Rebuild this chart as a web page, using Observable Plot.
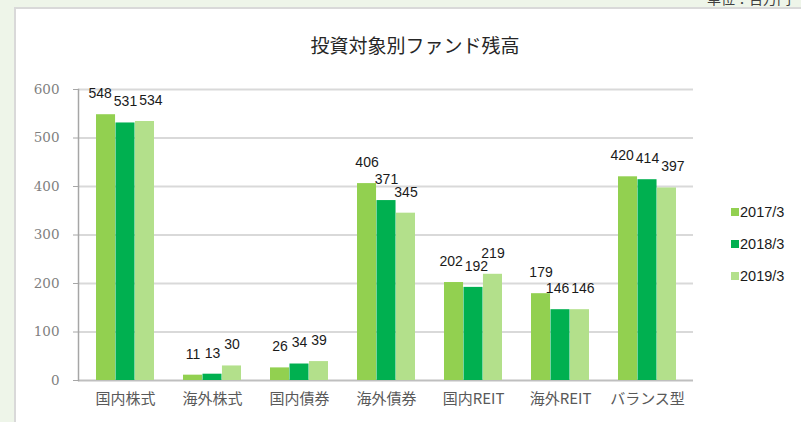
<!DOCTYPE html>
<html><head><meta charset="utf-8">
<script src="https://cdn.jsdelivr.net/npm/d3@7"></script>
<script src="https://cdn.jsdelivr.net/npm/@observablehq/plot@0.6"></script>
<style>
html,body{margin:0;padding:0;}
body{width:801px;height:422px;overflow:hidden;position:relative;background:#eef5e9;font-family:"Noto Sans CJK JP",sans-serif;}
#panel{position:absolute;left:14px;top:7px;width:800px;height:430px;background:#fff;border-left:2px solid #d9d9d9;border-top:2px solid #d9d9d9;}
#unit{position:absolute;left:707px;top:-12px;font-size:14px;color:#404040;white-space:nowrap;}
#title{position:absolute;left:0;width:830px;top:31px;text-align:center;font-size:19px;color:#262626;}
#chart{position:absolute;left:0;top:60px;}
#legend{position:absolute;left:731px;top:0;}
.li{position:absolute;left:0;white-space:nowrap;font-family:"Liberation Sans",Arial,sans-serif;font-size:14.5px;color:#1a1a1a;line-height:18px;}
.sw{display:inline-block;width:8px;height:8px;margin-right:1px;vertical-align:1px;}
</style></head>
<body>
<div id="panel"></div>
<div id="unit">単位：百万円</div>
<div id="title">投資対象別ファンド残高</div>
<div id="chart"></div>
<div id="legend"></div>
<script>
const categories = ["国内株式","海外株式","国内債券","海外債券","国内REIT","海外REIT","バランス型"];
const years = ["2017/3","2018/3","2019/3"];
const v2017 = [548, 11, 26, 406, 202, 179, 420];
const v2018 = [531, 13, 34, 371, 192, 146, 414];
const v2019 = [534, 30, 39, 345, 219, 146, 397];
const yTicks = [0, 100, 200, 300, 400, 500, 600];
const colors = ["#92d050", "#00b050", "#b3e08b"];

const series = [v2017, v2018, v2019];
const W = 801, H = 362, mT = 29, mB = 42, mL = 78, mR = 108;
const pIn = 0.335, pOut = 0.1675;
const step = (W - mL - mR) / (categories.length - pIn + 2 * pOut);
const bw = step * (1 - pIn);
const sub = bw / 3;
const kY = (H - mT - mB) / 600;

// spread colliding labels apart horizontally (automatic label layout)
const digitW = 7.8, gap = 2;
const labelMarks = [];
categories.forEach((c, ci) => {
  const vals = series.map(s => s[ci]);
  const widths = vals.map(v => String(v).length * digitW);
  const centers = [-sub, 0, sub];
  const dxs = [0, 0, 0];
  for (let it = 0; it < 40; it++) {
    for (let i = 1; i < 3; i++) {
      if (Math.abs((vals[i] - vals[i-1]) * kY) < 12) {
        const overlap = (centers[i-1] + dxs[i-1] + widths[i-1] / 2) - (centers[i] + dxs[i] - widths[i] / 2) + gap;
        if (overlap > 0.01) { dxs[i-1] -= overlap / 2; dxs[i] += overlap / 2; }
      }
    }
  }
  vals.forEach((v, i) => {
    labelMarks.push(Plot.text([{c, v}], {
      x: "c", y: "v", text: d => String(d.v), dx: centers[i] + dxs[i], dy: -21,
      fontSize: 14, fontFamily: "Liberation Sans, Arial, sans-serif", fill: "#1a1a1a"
    }));
  });
});

const barMarks = series.map((s, i) => Plot.barY(categories.map((c, ci) => ({c, v: s[ci]})), {
  x: "c", y: "v", fill: colors[i],
  insetLeft: i * sub, insetRight: (2 - i) * sub
}));

const plot = Plot.plot({
  width: W, height: H,
  marginTop: mT, marginBottom: mB, marginLeft: mL, marginRight: mR,
  style: {background: "transparent", overflow: "visible"},
  x: {domain: categories, paddingInner: pIn, paddingOuter: pOut, align: 0.5, label: null},
  y: {domain: [0, 600], label: null},
  marks: [
    Plot.ruleY(yTicks.slice(1), {stroke: "#d9d9d9", strokeWidth: 2}),
    Plot.ruleY([0], {stroke: "#bfbfbf", strokeWidth: 2}),
    ...barMarks,
    Plot.frame({anchor: "left", stroke: "#a6a6a6", strokeWidth: 1.5}),
    Plot.axisY({ticks: yTicks, tickSize: 5, tickPadding: 14, stroke: "#a6a6a6", fill: "#7f7f7f",
      fontSize: 13.5, fontFamily: "DejaVu Serif, serif", label: null, tickFormat: d => String(d)}),
    Plot.axisX({tickSize: 0, tickPadding: 13, fill: "#595959", fontSize: 15,
      fontFamily: "Noto Sans CJK JP, sans-serif", label: null}),
    ...labelMarks
  ]
});
document.getElementById("chart").appendChild(plot);

const legend = document.getElementById("legend");
const legendTops = [203, 235, 267];
years.forEach((y, i) => {
  const d = document.createElement("div");
  d.className = "li";
  d.style.top = legendTops[i] + "px";
  d.innerHTML = `<span class="sw" style="background:${colors[i]}"></span>${y}`;
  legend.appendChild(d);
});
</script>
</body></html>
